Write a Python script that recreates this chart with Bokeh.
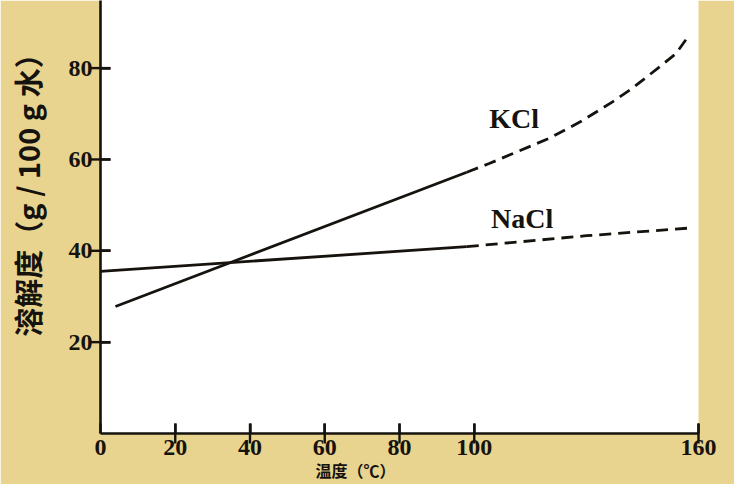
import math
from bokeh.plotting import figure
from bokeh.models import Range1d, FixedTicker
from bokeh.core.properties import value
from bokeh.embed import file_html
from bokeh.resources import INLINE

# ---- data (temperature in °C, solubility in g / 100 g water) ----
kcl_solid_t = [4, 98]
kcl_solid_s = [27.8, 57.2]
kcl_dash_t = [98, 104, 111.5, 120, 128.5, 137, 142, 149.5, 154, 157.5]
kcl_dash_s = [57.2, 59.1, 61.7, 64.6, 68.3, 72.6, 75.4, 80.2, 83.2, 87.2]

nacl_solid_t = [0, 98]
nacl_solid_s = [35.5, 40.9]
nacl_dash_t = [98, 130, 158]
nacl_dash_s = [40.9, 43.3, 45.0]

x_ticks = [0, 20, 40, 60, 80, 100, 160]
y_ticks = [20, 40, 60, 80]

BG = "#e8d48f"
INK = "#16130e"

p = figure(width=734, height=484, x_range=Range1d(0, 160), y_range=Range1d(0, 94.8),
           output_backend="svg", toolbar_location=None,
           min_border_left=100, min_border_right=36, min_border_top=0, min_border_bottom=48)
p.background_fill_color = None
p.border_fill_color = BG
p.outline_line_color = None
p.grid.grid_line_color = None

for ax in (p.xaxis[0], p.yaxis[0]):
    ax.axis_line_color = INK
    ax.axis_line_width = 2.6
    ax.major_tick_line_color = INK
    ax.major_tick_line_width = 2.4
    ax.major_tick_in = 10
    ax.major_tick_out = 0
    ax.minor_tick_line_color = None
    ax.major_label_text_font = "Liberation Serif"
    ax.major_label_text_font_size = "24px"
    ax.major_label_text_font_style = "bold"
    ax.major_label_text_color = INK

p.xaxis.ticker = FixedTicker(ticks=x_ticks)
p.yaxis.ticker = FixedTicker(ticks=y_ticks)
p.xaxis.major_label_standoff = 6
p.yaxis.major_label_standoff = 8

p.yaxis.axis_label = "　　溶解度（g / 100 g 水）"
p.yaxis.axis_label_text_font = "Noto Sans CJK SC"
p.yaxis.axis_label_text_font_size = "29px"
p.yaxis.axis_label_text_font_style = "bold"
p.yaxis.axis_label_text_color = INK
p.yaxis.axis_label_standoff = 18

p.xaxis.axis_label = "温度（℃）　　　　　　"
p.xaxis.axis_label_text_font = "Noto Sans CJK SC"
p.xaxis.axis_label_text_font_size = "16px"
p.xaxis.axis_label_text_font_style = "bold"
p.xaxis.axis_label_text_color = INK
p.xaxis.axis_label_standoff = 0

# ---- curves ----
p.line(kcl_solid_t, kcl_solid_s, line_color=INK, line_width=2.8)
p.line(kcl_dash_t, kcl_dash_s, line_color=INK, line_width=2.8, line_dash="12 7")
p.line(nacl_solid_t, nacl_solid_s, line_color=INK, line_width=2.8)
p.line(nacl_dash_t, nacl_dash_s, line_color=INK, line_width=2.8, line_dash="12 7")

# ---- curve labels ----
p.text(x=[104], y=[68.9], text=["KCl"], text_font=value("Liberation Serif"),
       text_font_size="28px", text_font_style="bold", text_color=INK,
       text_align="left", text_baseline="middle")
p.text(x=[104.5], y=[47.0], text=["NaCl"], text_font=value("Liberation Serif"),
       text_font_size="28px", text_font_style="bold", text_color=INK,
       text_align="left", text_baseline="middle")

# ---- inward tick marks as thin filled bars (from the tick arrays) ----
xt = x_ticks[1:]
p.rect(x=xt, y=[0] * len(xt), width=2.4, height=20, width_units="screen",
       height_units="screen", fill_color=INK, line_color=None, level="overlay")
p.rect(x=[0] * len(y_ticks), y=y_ticks, width=20, height=2.4, width_units="screen",
       height_units="screen", fill_color=INK, line_color=None, level="overlay")

open("out.html", "w").write(file_html(p, INLINE))
